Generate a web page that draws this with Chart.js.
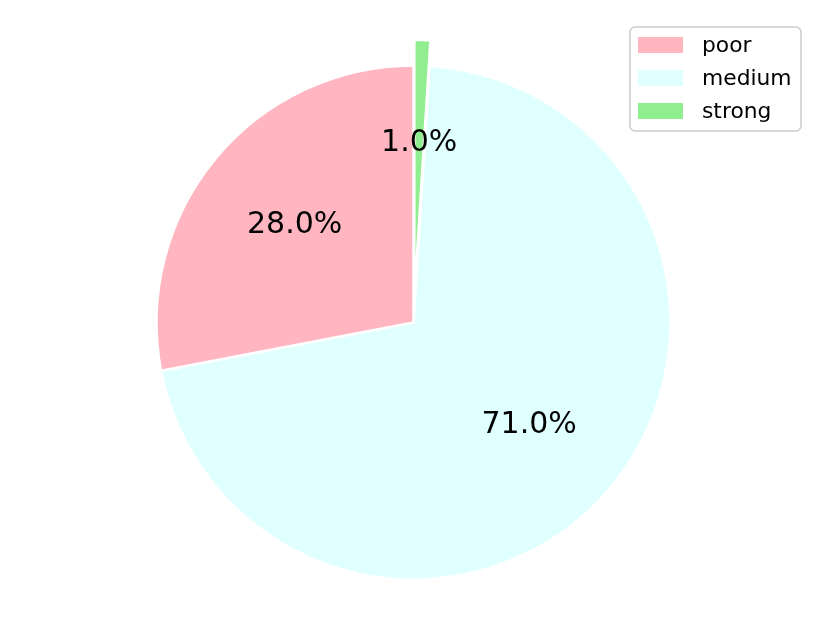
<!DOCTYPE html>
<html>
<head>
<meta charset="utf-8">
<script src="https://cdn.jsdelivr.net/npm/chart.js@4/dist/chart.umd.min.js"></script>
<style>
html,body{margin:0;padding:0;background:#fff;}
#wrap{width:829px;height:626px;position:relative;}
</style>
</head>
<body>
<div id="wrap"><canvas id="c" width="829" height="626"></canvas></div>
<script>
const categories = ['poor', 'medium', 'strong'];
const values = [28, 71, 1];
const colors = ['#FFB6C1', '#E0FFFF', '#90EE90'];
const explode = [0, 0, 0.1];

const RADIUS = 257;
const total = values.reduce((a, b) => a + b, 0);

// matplotlib draws counter-clockwise from the top; Chart.js draws clockwise,
// so feed the slices in reverse order.
const rLabels = categories.slice().reverse();
const rValues = values.slice().reverse();
const rColors = colors.slice().reverse();
const rExplode = explode.slice().reverse();

function explodeShift(arc, i) {
  const mid = (arc.startAngle + arc.endAngle) / 2;
  const d = rExplode[i] * RADIUS;
  return { dx: Math.cos(mid) * d, dy: Math.sin(mid) * d };
}

const piePlugin = {
  id: 'mplPie',
  beforeDatasetsDraw(chart) {
    const meta = chart.getDatasetMeta(0);
    meta.data.forEach((arc, i) => {
      const s = explodeShift(arc, i);
      arc.x += s.dx; arc.y += s.dy;
    });
  },
  afterDatasetsDraw(chart) {
    const ctx = chart.ctx;
    const meta = chart.getDatasetMeta(0);
    meta.data.forEach((arc, i) => {
      const s = explodeShift(arc, i);
      arc.x -= s.dx; arc.y -= s.dy;
    });
    ctx.save();
    ctx.font = '30px "DejaVu Sans"';
    ctx.fillStyle = '#000';
    ctx.textAlign = 'center';
    ctx.textBaseline = 'middle';
    meta.data.forEach((arc, i) => {
      const mid = (arc.startAngle + arc.endAngle) / 2;
      const d = rExplode[i] * RADIUS + 0.6 * RADIUS;
      const x = arc.x + Math.cos(mid) * d;
      const y = arc.y + Math.sin(mid) * d;
      ctx.fillText((rValues[i] / total * 100).toFixed(1) + '%', x, y + 1);
    });
    ctx.restore();
  }
};

const legendPlugin = {
  id: 'mplLegend',
  afterDraw(chart) {
    const ctx = chart.ctx;
    const bx = 630, by = 27, bw = 171, bh = 104, rr = 5;
    ctx.save();
    ctx.beginPath();
    ctx.moveTo(bx + rr, by);
    ctx.arcTo(bx + bw, by, bx + bw, by + bh, rr);
    ctx.arcTo(bx + bw, by + bh, bx, by + bh, rr);
    ctx.arcTo(bx, by + bh, bx, by, rr);
    ctx.arcTo(bx, by, bx + bw, by, rr);
    ctx.closePath();
    ctx.fillStyle = 'rgba(255,255,255,0.8)';
    ctx.fill();
    ctx.strokeStyle = '#cccccc';
    ctx.lineWidth = 1.5;
    ctx.stroke();
    ctx.font = '21.8px "DejaVu Sans"';
    ctx.textBaseline = 'middle';
    ctx.textAlign = 'left';
    categories.forEach((name, i) => {
      const cy = 45 + i * 33;
      ctx.fillStyle = colors[i];
      ctx.fillRect(638, cy - 8, 45, 16);
      ctx.fillStyle = '#000';
      ctx.fillText(name, 702, cy + 1);
    });
    ctx.restore();
  }
};

new Chart(document.getElementById('c'), {
  type: 'pie',
  data: {
    labels: rLabels,
    datasets: [{
      data: rValues,
      backgroundColor: rColors,
      borderColor: '#ffffff',
      borderWidth: 2.5,
      hoverOffset: 0
    }]
  },
  options: {
    responsive: false,
    animation: false,
    radius: RADIUS,
    rotation: 0,
    layout: { padding: { top: 19, bottom: 0, left: 0, right: 2 } },
    plugins: {
      legend: { display: false },
      tooltip: { enabled: false }
    },
    events: []
  },
  plugins: [piePlugin, legendPlugin]
});
</script>
</body>
</html>
